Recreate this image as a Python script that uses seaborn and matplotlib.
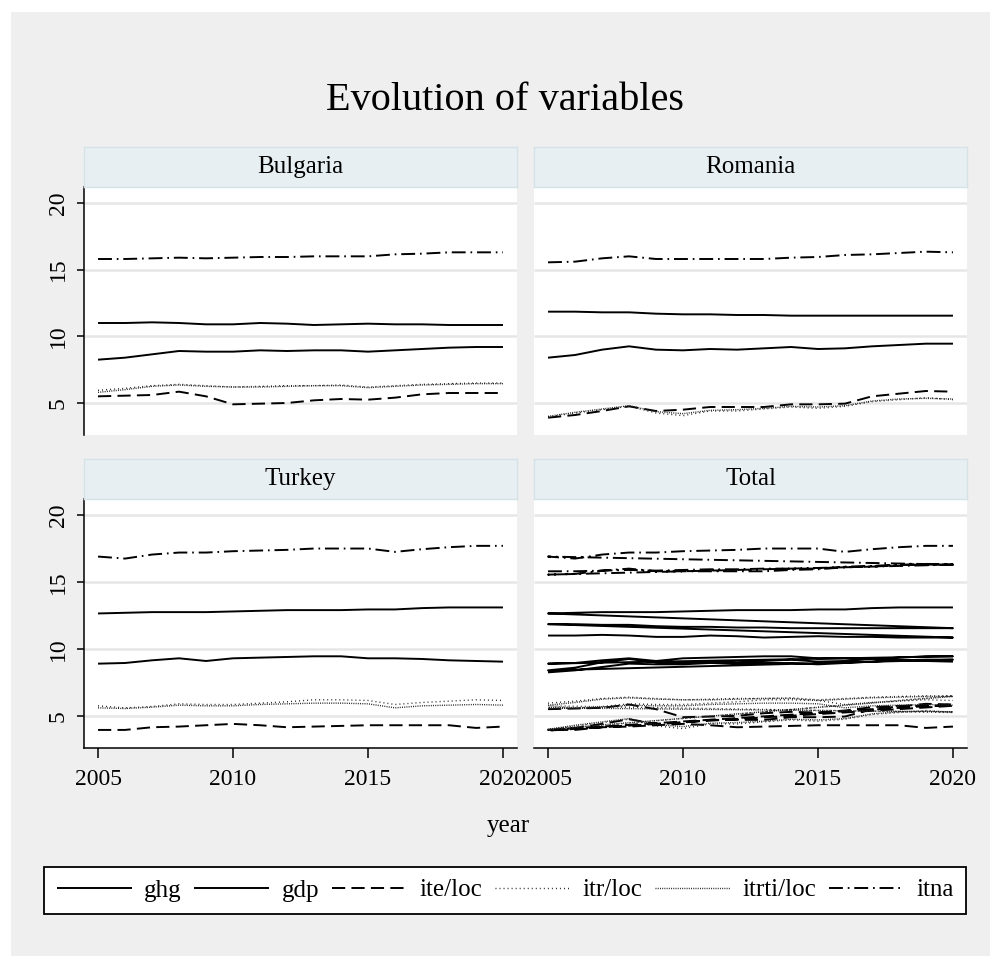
import numpy as np
import pandas as pd
import matplotlib
matplotlib.use("Agg")
import matplotlib.pyplot as plt
import seaborn as sns
from matplotlib.lines import Line2D
from matplotlib.patches import Rectangle

# ---------------- data ----------------
years = list(range(2005, 2021))
countries = ["Bulgaria", "Romania", "Turkey"]
variables = ["ghg", "gdp", "ite/loc", "itr/loc", "itrti/loc", "itna"]

bulgaria_ghg = [11.0, 11.0, 11.05, 11.0, 10.9, 10.9, 11.0, 10.95, 10.85, 10.9, 10.95, 10.9, 10.9, 10.85, 10.85, 10.85]
bulgaria_gdp = [8.25, 8.4, 8.65, 8.9, 8.85, 8.85, 8.95, 8.9, 8.95, 8.95, 8.85, 8.95, 9.05, 9.15, 9.2, 9.2]
bulgaria_ite = [5.5, 5.55, 5.6, 5.85, 5.5, 4.9, 4.95, 5.0, 5.2, 5.3, 5.25, 5.4, 5.65, 5.75, 5.75, 5.75]
bulgaria_itr = [5.95, 6.1, 6.3, 6.4, 6.3, 6.2, 6.25, 6.3, 6.3, 6.35, 6.2, 6.3, 6.4, 6.45, 6.5, 6.5]
bulgaria_itrti = [5.8, 6.0, 6.25, 6.35, 6.25, 6.2, 6.2, 6.25, 6.3, 6.3, 6.15, 6.25, 6.35, 6.4, 6.45, 6.45]
bulgaria_itna = [15.8, 15.8, 15.85, 15.9, 15.85, 15.9, 15.95, 15.95, 16.0, 16.0, 16.0, 16.15, 16.2, 16.3, 16.3, 16.3]

romania_ghg = [11.85, 11.85, 11.8, 11.8, 11.7, 11.65, 11.65, 11.6, 11.6, 11.55, 11.55, 11.55, 11.55, 11.55, 11.55, 11.55]
romania_gdp = [8.4, 8.6, 9.0, 9.25, 9.0, 8.95, 9.05, 9.0, 9.1, 9.2, 9.05, 9.1, 9.25, 9.35, 9.45, 9.45]
romania_ite = [3.9, 4.1, 4.4, 4.75, 4.4, 4.5, 4.7, 4.7, 4.7, 4.9, 4.9, 4.95, 5.5, 5.7, 5.9, 5.85]
romania_itr = [3.95, 4.25, 4.5, 4.75, 4.25, 4.05, 4.4, 4.4, 4.55, 4.7, 4.6, 4.75, 5.1, 5.25, 5.4, 5.25]
romania_itrti = [4.0, 4.3, 4.55, 4.8, 4.35, 4.2, 4.45, 4.5, 4.6, 4.75, 4.7, 4.8, 5.15, 5.3, 5.35, 5.3]
romania_itna = [15.55, 15.6, 15.85, 16.0, 15.8, 15.8, 15.8, 15.8, 15.8, 15.9, 15.95, 16.1, 16.15, 16.25, 16.35, 16.3]

turkey_ghg = [12.65, 12.7, 12.75, 12.75, 12.75, 12.8, 12.85, 12.9, 12.9, 12.9, 12.95, 12.95, 13.05, 13.1, 13.1, 13.1]
turkey_gdp = [8.9, 8.95, 9.15, 9.3, 9.1, 9.3, 9.35, 9.4, 9.45, 9.45, 9.3, 9.3, 9.25, 9.15, 9.1, 9.05]
turkey_ite = [3.95, 3.95, 4.15, 4.2, 4.3, 4.4, 4.3, 4.15, 4.2, 4.25, 4.3, 4.3, 4.3, 4.3, 4.1, 4.2]
turkey_itr = [5.75, 5.6, 5.7, 5.9, 5.85, 5.85, 5.95, 6.05, 6.2, 6.2, 6.15, 5.85, 6.0, 6.1, 6.2, 6.15]
turkey_itrti = [5.6, 5.55, 5.65, 5.8, 5.75, 5.75, 5.85, 5.9, 5.95, 5.95, 5.9, 5.6, 5.75, 5.8, 5.85, 5.8]
turkey_itna = [16.9, 16.75, 17.05, 17.2, 17.2, 17.3, 17.35, 17.4, 17.5, 17.5, 17.5, 17.25, 17.45, 17.6, 17.7, 17.7]

series = {
    "Bulgaria": [bulgaria_ghg, bulgaria_gdp, bulgaria_ite, bulgaria_itr, bulgaria_itrti, bulgaria_itna],
    "Romania": [romania_ghg, romania_gdp, romania_ite, romania_itr, romania_itrti, romania_itna],
    "Turkey": [turkey_ghg, turkey_gdp, turkey_ite, turkey_itr, turkey_itrti, turkey_itna],
}

rows = []
for c in countries:
    for v, vals in zip(variables, series[c]):
        for y, val in zip(years, vals):
            rows.append((c, v, y, val))
df = pd.DataFrame(rows, columns=["country", "variable", "year", "value"])

# ---------------- style ----------------
sns.set_theme(style="white")
plt.rcParams["font.family"] = ["Liberation Serif", "DejaVu Serif"]
plt.rcParams["text.color"] = "black"
plt.rcParams["axes.labelcolor"] = "black"
plt.rcParams["xtick.color"] = "black"
plt.rcParams["ytick.color"] = "black"
plt.rcParams["lines.scale_dashes"] = False
plt.rcParams["lines.solid_capstyle"] = "butt"
plt.rcParams["lines.dash_capstyle"] = "butt"

styles = {
    "ghg": dict(linestyle="-", linewidth=1.4, color="black"),
    "gdp": dict(linestyle="-", linewidth=1.4, color="black"),
    "ite/loc": dict(linestyle=(0, (9.5, 4.5)), linewidth=1.4, color="black"),
    "itr/loc": dict(linestyle=(0, (0.7, 2.2)), linewidth=1.0, color="#222222"),
    "itrti/loc": dict(linestyle=(0, (0.7, 0.9)), linewidth=1.0, color="#222222"),
    "itna": dict(linestyle=(0, (10, 3.5, 1.2, 3.5)), linewidth=1.4, color="black"),
}

W, H = 990, 956
fig = plt.figure(figsize=(W / 100, H / 100), dpi=100, facecolor="white")
fig.patches.append(Rectangle((11 / W, 0), 1 - 11 / W, 1 - 12 / H, transform=fig.transFigure,
                             facecolor="#efefef", edgecolor="none", zorder=-10))

def px_rect(x0, y0, x1, y1):
    return [x0 / W, 1 - y1 / H, (x1 - x0) / W, (y1 - y0) / H]

panels = {
    "Bulgaria": (84, 187, 517, 435),
    "Romania": (534, 187, 967, 435),
    "Turkey": (84, 499, 517, 748),
    "Total": (534, 499, 967, 748),
}

YMIN, YMAX = 2.6, 21.2
XMIN, XMAX = 2004.48, 2020.52
label_size = 17

for name, (x0, y0, x1, y1) in panels.items():
    ax = fig.add_axes(px_rect(x0, y0, x1, y1))
    ax.set_facecolor("white")
    for yv in [5, 10, 15, 20]:
        ax.axhline(yv, color="#e6e6e6", linewidth=1.8, zorder=0)
    sub = df if name == "Total" else df[df["country"] == name]
    for v in variables:
        d = sub[sub["variable"] == v]
        sns.lineplot(data=d, x="year", y="value", sort=False, estimator=None,
                     ax=ax, legend=False, **styles[v])
    ax.set_xlim(XMIN, XMAX)
    ax.set_ylim(YMIN, YMAX)
    ax.set_xlabel("")
    ax.set_ylabel("")
    left = x0 < 300
    bottom = y0 > 450
    for s in ax.spines.values():
        s.set_visible(False)
    ax.set_yticks([5, 10, 15, 20])
    ax.set_xticks([2005, 2010, 2015, 2020])
    if left:
        ax.spines["left"].set_visible(True)
        ax.spines["left"].set_color("black")
        ax.spines["left"].set_linewidth(1.1)
        ax.tick_params(axis="y", left=True, length=5, width=1.1, color="black",
                       labelsize=label_size, pad=6)
        for t in ax.get_yticklabels():
            t.set_rotation(90)
            t.set_va("center")
    else:
        ax.tick_params(axis="y", left=False, labelleft=False)
    if bottom:
        ax.spines["bottom"].set_visible(True)
        ax.spines["bottom"].set_color("black")
        ax.spines["bottom"].set_linewidth(1.1)
        ax.tick_params(axis="x", bottom=True, length=7, width=1.1, color="black",
                       labelsize=label_size, pad=8)
    else:
        ax.tick_params(axis="x", bottom=False, labelbottom=False)
    ax.grid(False)

    # strip
    sax = fig.add_axes(px_rect(x0, y0 - 40, x1, y0))
    sax.set_facecolor("#e8eff2")
    for s in sax.spines.values():
        s.set_color("#d5e3e8")
        s.set_linewidth(1.0)
    sax.set_xticks([])
    sax.set_yticks([])
    sax.text(0.5, 0.5, name, ha="center", va="center", fontsize=18, transform=sax.transAxes)

fig.text(505 / W, 1 - 100 / H, "Evolution of variables", ha="center", va="center", fontsize=29)
fig.text(508 / W, 1 - 826 / H, "year", ha="center", va="center", fontsize=18)

handles = [Line2D([0], [0], **styles[v]) for v in variables]
leg = fig.legend(handles, variables, loc="lower left",
                 bbox_to_anchor=(44 / W, 1 - 914 / H, (966 - 44) / W, (914 - 856) / H),
                 mode="expand", ncol=6, frameon=True, fancybox=False, fontsize=18,
                 handlelength=3.0, handletextpad=0.5, borderaxespad=0, borderpad=0.5,
                 columnspacing=0.6)
leg.get_frame().set_edgecolor("black")
leg.get_frame().set_linewidth(1.3)
leg.get_frame().set_facecolor("white")
leg.get_frame().set_alpha(1)

fig.savefig("out.png", dpi=100, facecolor="white")
